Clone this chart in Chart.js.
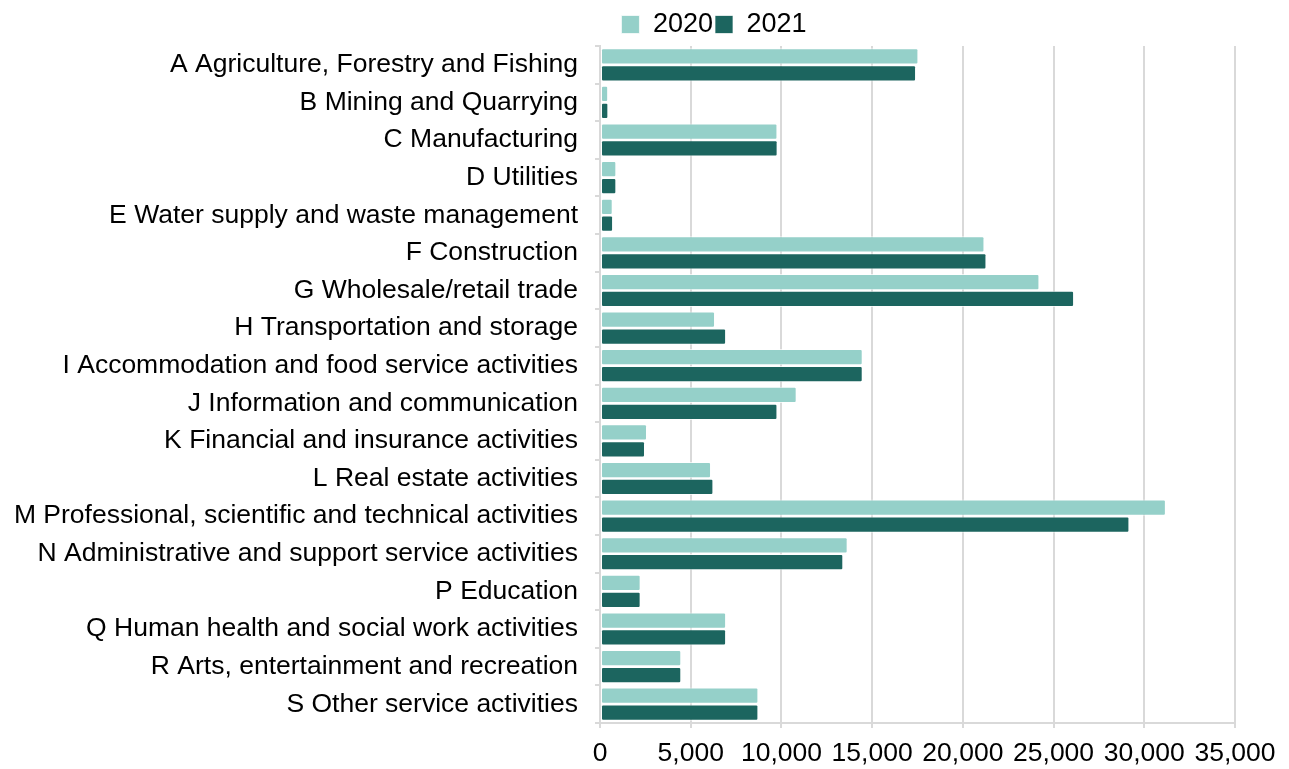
<!DOCTYPE html>
<html>
<head>
<meta charset="utf-8">
<script src="https://cdn.jsdelivr.net/npm/chart.js@4.4.1/dist/chart.umd.min.js"></script>
<style>
  html, body { margin: 0; padding: 0; background: #ffffff; }
  #wrap { width: 1289px; height: 769px; position: relative; }
</style>
</head>
<body>
<div id="wrap"><canvas id="c" width="1289" height="769"></canvas></div>
<script>
const categories = [
  "A Agriculture, Forestry and Fishing",
  "B Mining and Quarrying",
  "C Manufacturing",
  "D Utilities",
  "E Water supply and waste management",
  "F Construction",
  "G Wholesale/retail trade",
  "H Transportation and storage",
  "I Accommodation and food service activities",
  "J Information and communication",
  "K Financial and insurance activities",
  "L Real estate activities",
  "M Professional, scientific and technical activities",
  "N Administrative and support service activities",
  "P Education",
  "Q Human health and social work activities",
  "R Arts, entertainment and recreation",
  "S Other service activities"
];
const series2020 = [17550, 450, 9780, 900, 700, 21190, 24220, 6340, 14480, 10840, 2590, 6120, 31190, 13650, 2240, 6950, 4480, 8730];
const series2021 = [17420, 460, 9790, 900, 720, 21300, 26130, 6950, 14480, 9780, 2480, 6250, 29180, 13410, 2240, 6950, 4480, 8730];
const seriesNames = ["2020", "2021"];
const xTicks = [0, 5000, 10000, 15000, 20000, 25000, 30000, 35000];

const FONT = "'Liberation Sans', Arial, sans-serif";
const GRID = "#d9d9d9";

const legendShift = {
  id: 'legendShift',
  afterLayout(chart) {
    const lg = chart.legend;
    if (lg) {
      lg.left += 185;
      lg.top += 2;
      lg.bottom += 2;
      lg.adjustHitBoxes();
    }
  }
};

new Chart(document.getElementById('c'), {
  type: 'bar',
  data: {
    labels: categories,
    datasets: [
      {
        label: seriesNames[0],
        data: series2020,
        backgroundColor: '#95D0C9',
        borderColor: 'rgba(255,255,255,0.7)',
        borderWidth: 1,
        borderRadius: 2,
        borderSkipped: false
      },
      {
        label: seriesNames[1],
        data: series2021,
        backgroundColor: '#1C655F',
        borderColor: 'rgba(255,255,255,0.7)',
        borderWidth: 1,
        borderRadius: 2,
        borderSkipped: false
      }
    ]
  },
  options: {
    indexAxis: 'y',
    responsive: false,
    animation: false,
    devicePixelRatio: 1,
    categoryPercentage: 0.9,
    barPercentage: 0.96,
    layout: { padding: { left: 8, right: 54, top: 7, bottom: 0 } },
    plugins: {
      legend: {
        position: 'top',
        align: 'center',
        labels: {
          font: { family: FONT, size: 27 },
          color: '#000',
          boxWidth: 18,
          boxHeight: 18,
          padding: 2
        }
      },
      tooltip: { enabled: false }
    },
    scales: {
      x: {
        min: 0,
        max: 35000,
        afterBuildTicks(scale) {
          scale.ticks = xTicks.map(v => ({ value: v }));
        },
        afterFit(scale) { scale.height = 46; },
        ticks: {
          font: { family: FONT, size: 26.5 },
          color: '#000',
          padding: 10,
          maxRotation: 0,
          callback: (v) => Number(v).toLocaleString('en-US')
        },
        grid: {
          color: GRID,
          lineWidth: 2,
          tickLength: 5,
          drawTicks: true
        },
        border: { display: true, color: GRID, width: 2 }
      },
      y: {
        afterFit(scale) { scale.width = 592; },
        ticks: {
          font: { family: FONT, size: 26.5 },
          color: '#000',
          padding: 17,
          autoSkip: false
        },
        grid: {
          color: GRID,
          lineWidth: 2,
          drawOnChartArea: false,
          drawTicks: true,
          tickLength: 5,
          offset: true
        },
        border: { display: true, color: GRID, width: 2 }
      }
    }
  },
  plugins: [legendShift]
});
</script>
</body>
</html>
